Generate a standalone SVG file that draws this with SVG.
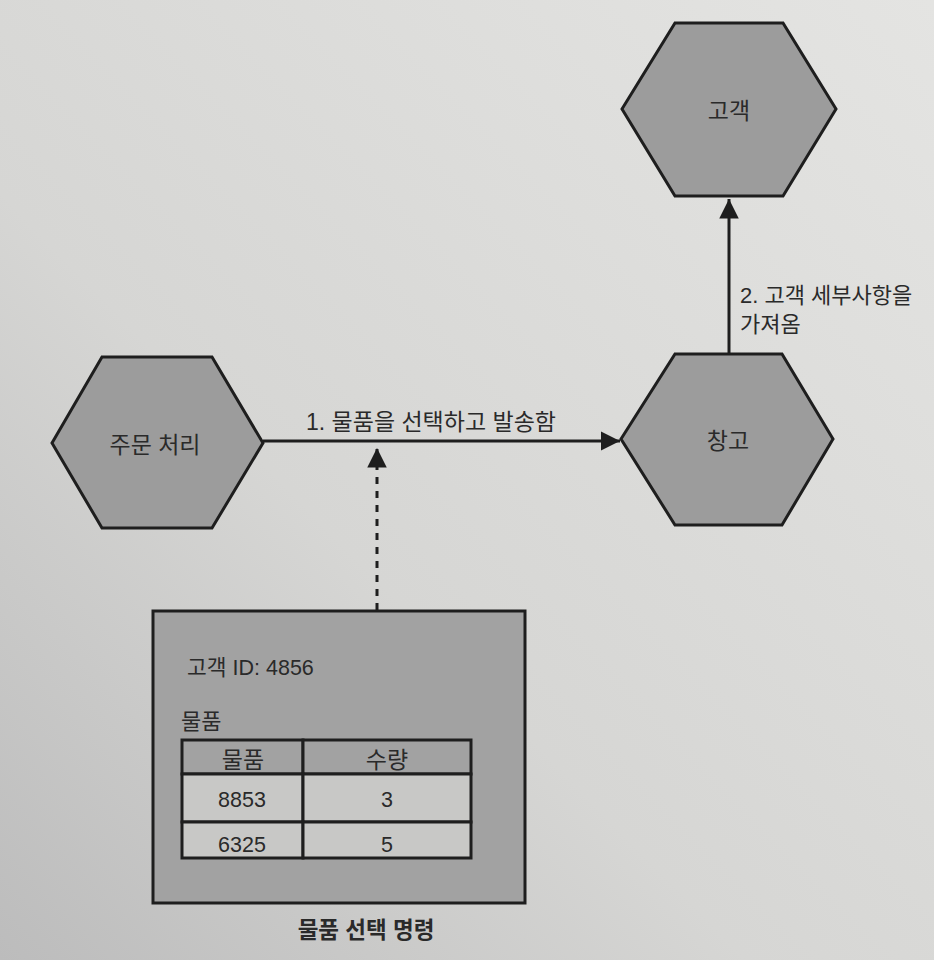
<svg xmlns="http://www.w3.org/2000/svg" width="934" height="960" viewBox="0 0 934 960">
<defs>
<linearGradient id="bg" x1="1" y1="0" x2="0" y2="1">
<stop offset="0" stop-color="#e4e4e2"/>
<stop offset="0.6" stop-color="#d6d6d4"/>
<stop offset="1" stop-color="#bcbcbc"/>
</linearGradient>
<marker id="ahb" viewBox="0 0 10 10" refX="10" refY="5" markerWidth="6.5" markerHeight="6.5" orient="auto">
<path d="M0,0 L10,5 L0,10 z" fill="#1e1e1e"/>
</marker>
</defs>
<style>
.hex{fill:#9c9c9c;stroke:#1e1e1e;stroke-width:3;stroke-linejoin:miter}
.t{font-family:"Liberation Sans","Noto Sans CJK KR",sans-serif;fill:#2a2a2a}
.lbl{font-size:23px;text-anchor:middle}
.edge{font-size:22px}
.box{fill:#a2a2a2;stroke:#1e1e1e;stroke-width:3}
.cellh{fill:#a2a2a2;stroke:#1e1e1e;stroke-width:3}
.cell{fill:#c8c8c6;stroke:#1e1e1e;stroke-width:3}
.line{stroke:#1e1e1e;stroke-width:3;fill:none}
.ct{font-size:21.5px;text-anchor:middle}
.ch{font-size:23px;text-anchor:middle}
</style>
<rect width="934" height="960" fill="url(#bg)"/>

<g id="connectors">
<line class="line" x1="263" y1="441" x2="620" y2="441" marker-end="url(#ahb)"/>
<line class="line" x1="729" y1="354" x2="729" y2="199" marker-end="url(#ahb)"/>
<line class="line" x1="377" y1="610" x2="377" y2="448" stroke-dasharray="7,7" marker-end="url(#ahb)"/>
<text class="t" x="306" y="430" font-size="23">1. 물품을 선택하고 발송함</text>
<text class="t edge" x="740" y="303">2. 고객 세부사항을</text>
<text class="t edge" x="740" y="332">가져옴</text>
</g>

<g id="node-order">
<polygon class="hex" points="52,443 102,357 212,357 263,443 212,528 102,528"/>
<text class="t lbl" x="155" y="453">주문 처리</text>
</g>

<g id="node-warehouse">
<polygon class="hex" points="621,439 675,354 782,354 833,439 782,525 675,525"/>
<text class="t lbl" x="728" y="449">창고</text>
</g>

<g id="node-customer">
<polygon class="hex" points="622,109 675,23 783,23 836,109 783,196 675,196"/>
<text class="t lbl" x="729" y="119">고객</text>
</g>

<g id="node-command">
<rect class="box" x="153" y="611" width="372" height="292"/>
<text class="t" x="187" y="675" font-size="21.5">고객 ID: 4856</text>
<text class="t" x="181" y="729" font-size="22">물품</text>
<rect class="cellh" x="182" y="740" width="121" height="34"/>
<rect class="cellh" x="303" y="740" width="168" height="34"/>
<rect class="cell" x="182" y="774" width="121" height="48"/>
<rect class="cell" x="303" y="774" width="168" height="48"/>
<rect class="cell" x="182" y="822" width="121" height="36"/>
<rect class="cell" x="303" y="822" width="168" height="36"/>
<text class="t ch" x="243" y="768">물품</text>
<text class="t ch" x="387" y="768">수량</text>
<text class="t ct" x="242" y="807">8853</text>
<text class="t ct" x="387" y="807">3</text>
<text class="t ct" x="242" y="852">6325</text>
<text class="t ct" x="387" y="852">5</text>
<text class="t" x="366" y="938" font-size="22.5" font-weight="bold" text-anchor="middle">물품 선택 명령</text>
</g>
</svg>
